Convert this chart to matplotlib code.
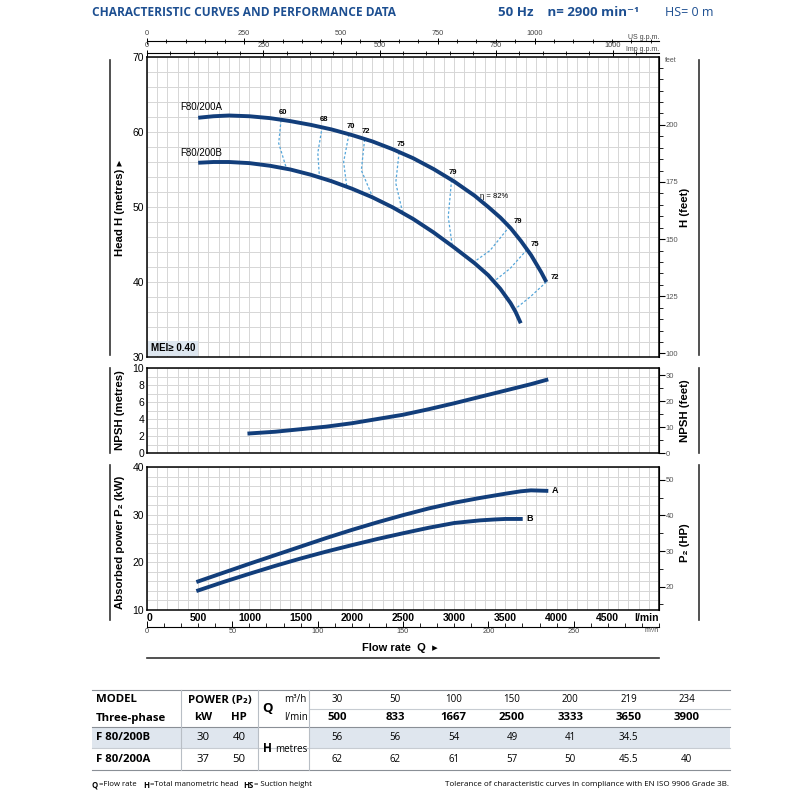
import numpy as np
import matplotlib.pyplot as plt
from matplotlib.patches import Rectangle
from matplotlib.ticker import MultipleLocator

# ---- data (flow in l/min) ----
q_head_a = [500, 650, 800, 1000, 1200, 1400, 1600, 1800, 2000, 2200, 2400, 2600, 2800, 3000,
            3200, 3333, 3450, 3550, 3650, 3750, 3850, 3900]
h_head_a = [61.9, 62.1, 62.2, 62.1, 61.85, 61.45, 60.95, 60.35, 59.6, 58.75, 57.7, 56.5, 55.05, 53.4,
            51.5, 50.0, 48.6, 47.2, 45.5, 43.6, 41.3, 40.0]
q_head_b = [500, 650, 800, 1000, 1200, 1400, 1600, 1800, 2000, 2200, 2400, 2600, 2800, 3000,
            3200, 3333, 3450, 3550, 3600, 3650]
h_head_b = [55.9, 56.0, 56.0, 55.85, 55.5, 55.0, 54.3, 53.45, 52.45, 51.3, 49.95, 48.4, 46.6, 44.6,
            42.5, 40.9, 39.1, 37.2, 36.0, 34.5]

eff_labels = ['60', '68', '70', '72', '75', '79', '79', '75', '72']
eff_q = [[1309, 1286, 1365], [1711, 1668, 1685], [1972, 1920, 1952], [2125, 2093, 2207],
         [2462, 2429, 2501], [2974, 2942, 2981], [3540, 3350, 3186], [3710, 3546, 3399],
         [3900, 3741, 3595]]
eff_h = [[61.6, 58.5, 55.0], [60.7, 57.2, 53.8], [59.7, 56.0, 52.6], [59.0, 54.9, 51.2],
         [57.3, 53.2, 49.0], [53.6, 48.7, 44.8], [47.4, 44.2, 42.6], [44.3, 41.8, 40.2],
         [40.0, 38.0, 36.4]]
eta_max_q, eta_max_h = 3186, 51.6

q_npsh = [1000, 1250, 1500, 1750, 2000, 2250, 2500, 2750, 3000, 3250, 3500, 3750, 3900]
npsh = [2.3, 2.5, 2.8, 3.1, 3.5, 4.0, 4.5, 5.15, 5.85, 6.6, 7.35, 8.1, 8.6]

q_pow_a = [500, 750, 1000, 1250, 1500, 1750, 2000, 2250, 2500, 2750, 3000, 3250, 3500, 3650, 3750, 3900]
p_pow_a = [16.0, 17.85, 19.7, 21.5, 23.3, 25.1, 26.8, 28.4, 29.9, 31.3, 32.5, 33.5, 34.4, 34.9, 35.1, 35.0]
q_pow_b = [500, 750, 1000, 1250, 1500, 1750, 2000, 2250, 2500, 2750, 3000, 3250, 3400, 3500, 3650]
p_pow_b = [14.1, 15.9, 17.6, 19.25, 20.8, 22.25, 23.6, 24.9, 26.1, 27.25, 28.25, 28.8, 29.0, 29.1, 29.1]

x_tick_labels = ['0', '500', '1000', '1500', '2000', '2500', '3000', '3500', '4000', '4500', 'l/min']

# table
tab_m3h = ['30', '50', '100', '150', '200', '219', '234']
tab_lmin = ['500', '833', '1667', '2500', '3333', '3650', '3900']
tab_models = ['F 80/200B', 'F 80/200A']
tab_kw = ['30', '37']
tab_hp = ['40', '50']
tab_h_b = ['56', '56', '54', '49', '41', '34.5', '']
tab_h_a = ['62', '62', '61', '57', '50', '45.5', '40']

NAVY = '#123e7b'
DASH = '#55a6da'
BLUE = '#1d4f91'
GRID = '#d6d6d6'
SANS = ['Liberation Sans', 'DejaVu Sans']
OPEN = ['Open Sans', 'DejaVu Sans']

plt.rcParams['font.family'] = SANS

fig = plt.figure(figsize=(8, 8), dpi=100)


def fx(px):
    return px / 800


def fy(py):
    return 1 - py / 800


L, R = 147, 659
W = fx(R) - fx(L)


def style_panel(ax, ymin, ymax, ystep, ygrid, labels):
    ax.set_xlim(0, 5000)
    ax.set_ylim(ymin, ymax)
    ax.set_xticks(np.arange(0, 5001, 500))
    ax.xaxis.set_minor_locator(MultipleLocator(100))
    ax.set_yticks(np.arange(ymin, ymax + 0.1, ystep))
    ax.yaxis.set_minor_locator(MultipleLocator(ygrid))
    ax.grid(which='both', color=GRID, lw=0.7)
    ax.set_axisbelow(True)
    ax.tick_params(which='both', length=0, labelsize=7.5, pad=2)
    if not labels:
        ax.set_xticklabels([])
    for s in ax.spines.values():
        s.set_linewidth(1.1)


def right_axis(ax, fwd, inv, major, minor):
    sec = ax.secondary_yaxis('right', functions=(fwd, inv))
    sec.set_yticks(major)
    sec.yaxis.set_minor_locator(MultipleLocator(minor))
    sec.tick_params(which='major', length=4, labelsize=5.5, labelcolor='#555555', pad=1)
    sec.tick_params(which='minor', length=3)
    return sec


m2ft = (lambda m: m / 0.3048, lambda f: f * 0.3048)
kw2hp = (lambda k: k / 0.7457, lambda h: h * 0.7457)

# ---- head panel ----
ax_h = fig.add_axes([fx(L), fy(357), W, (357 - 57) / 800])
style_panel(ax_h, 30, 70, 10, 2, False)
for i, (qs, hs) in enumerate(zip(eff_q, eff_h)):
    ax_h.plot(qs, hs, color=DASH, lw=0.9, ls=(0, (2.0, 1.6)))
    off = (-2, 3) if i < 6 else (3, 1)
    ax_h.annotate(eff_labels[i], (qs[0], hs[0]), xytext=off, textcoords='offset points',
                  fontsize=5.5, fontweight='bold', ha='left', va='bottom')
ax_h.plot(q_head_a, h_head_a, color=NAVY, lw=2.8, solid_capstyle='butt', solid_joinstyle='round')
ax_h.plot(q_head_b, h_head_b, color=NAVY, lw=2.8, solid_capstyle='butt', solid_joinstyle='round')
ax_h.text(323, 62.7, 'F80/200A', fontsize=7, va='bottom')
ax_h.text(323, 56.6, 'F80/200B', fontsize=7, va='bottom')
ax_h.annotate('η = 82%', (eta_max_q, eta_max_h), xytext=(5, -1), textcoords='offset points',
              fontsize=5.5, va='center', ha='left')
ax_h.text(0.007, 0.012, 'MEI≥ 0.40', transform=ax_h.transAxes, fontsize=7, fontweight='bold',
          va='bottom', ha='left', bbox=dict(facecolor='#dde6ef', edgecolor='none', pad=2))
right_axis(ax_h, *m2ft, [100, 125, 150, 175, 200], 5)
ax_h.text(1.012, 1.0, 'feet', transform=ax_h.transAxes, fontsize=5, color='#555555', va='top')

# ---- NPSH panel ----
ax_n = fig.add_axes([fx(L), fy(453), W, (453 - 368) / 800])
style_panel(ax_n, 0, 10, 2, 1, False)
ax_n.plot(q_npsh, npsh, color=NAVY, lw=2.8, solid_joinstyle='round')
right_axis(ax_n, *m2ft, [0, 10, 20, 30], 5)

# ---- power panel ----
ax_p = fig.add_axes([fx(L), fy(610), W, (610 - 467) / 800])
style_panel(ax_p, 10, 40, 10, 2, True)
ax_p.set_xticklabels(x_tick_labels, fontweight='bold', fontsize=7.5)
ax_p.get_xticklabels()[-1].set_horizontalalignment('right')
ax_p.get_xticklabels()[0].set_horizontalalignment('left')
ax_p.plot(q_pow_a, p_pow_a, color=NAVY, lw=2.8, solid_joinstyle='round')
ax_p.plot(q_pow_b, p_pow_b, color=NAVY, lw=2.8, solid_joinstyle='round')
ax_p.annotate('A', (q_pow_a[-1], p_pow_a[-1]), xytext=(4, 0), textcoords='offset points',
              fontsize=6.5, fontweight='bold', va='center')
ax_p.annotate('B', (q_pow_b[-1], p_pow_b[-1]), xytext=(4, 0), textcoords='offset points',
              fontsize=6.5, fontweight='bold', va='center')
right_axis(ax_p, *kw2hp, [20, 30, 40, 50], 5)


# ---- extra flow scales ----
def flow_scale(py, top, qmax, major, minor, unit):
    a = fig.add_axes([fx(L), fy(py), W, 0.0001])
    a.set_xlim(0, qmax)
    a.set_yticks([])
    for k, s in a.spines.items():
        s.set_visible(k == 'bottom')
    a.spines['bottom'].set_linewidth(0.8)
    a.set_xticks(np.arange(0, qmax - major * 0.3, major))
    a.xaxis.set_minor_locator(MultipleLocator(minor))
    a.tick_params(which='major', direction='inout' if top else 'in', length=4, width=0.7,
                  labelsize=5.3, labelcolor='#444444', pad=1,
                  labeltop=top, labelbottom=not top, top=False)
    a.tick_params(which='minor', direction='inout' if top else 'in', length=3, width=0.6, top=False)
    a.text(1.0, 1.0 if top else -1.0, unit, transform=a.transAxes, fontsize=5, color='#444444',
           ha='right', va='bottom' if top else 'top')
    return a


flow_scale(41, True, 5000 / 3.785, 250, 50, 'US g.p.m.')
flow_scale(53, True, 5000 / 4.546, 250, 50, 'Imp g.p.m.')
flow_scale(627, False, 300, 50, 10, 'm³/h')

# ---- page decorations and table (pixel coordinates) ----
pg = fig.add_axes([0, 0, 1, 1])
pg.set_xlim(0, 800)
pg.set_ylim(800, 0)
pg.axis('off')

pg.text(92, 13, 'CHARACTERISTIC CURVES AND PERFORMANCE DATA', fontsize=8.6, fontweight='bold',
        color=BLUE, family=OPEN, va='center')
pg.text(498, 13, '50 Hz    n= 2900 min⁻¹', fontsize=9.5, fontweight='bold', color=BLUE,
        family=OPEN, va='center')
pg.text(665, 13, 'HS= 0 m', fontsize=9, color=BLUE, family=OPEN, va='center')

side = [('Head H (metres) ▸', 'H (feet)', 60, 355),
        ('NPSH (metres)', 'NPSH (feet)', 368, 453),
        ('Absorbed power P₂ (kW)', 'P₂ (HP)', 465, 620)]
for lt, rt, y0, y1 in side:
    pg.plot([110, 110], [y0, y1], color='#333333', lw=1.2)
    pg.plot([699, 699], [y0, y1], color='#333333', lw=1.2)
    pg.text(120, (y0 + y1) / 2, lt, rotation=90, fontsize=8.2, fontweight='bold',
            ha='center', va='center')
    pg.text(685, (y0 + y1) / 2, rt, rotation=90, fontsize=8.2, fontweight='bold',
            ha='center', va='center')

pg.text(400, 648, 'Flow rate  Q  ▸', fontsize=8, fontweight='bold', ha='center', va='center')
pg.plot([L, R], [658, 658], color='#333333', lw=1.2)

# table
col_x = [337 + 58.3 * i for i in range(7)]
pg.add_patch(Rectangle((92, 727), 166, 21, color='#dfe6ee', lw=0))
pg.add_patch(Rectangle((309, 727), 421, 21, color='#dfe6ee', lw=0))
for yy, x0, c in [(690, 92, '#8a8f96'), (709, 309, '#c7ccd2'), (727, 92, '#8a8f96'),
                  (748, 92, '#c7ccd2'), (770, 92, '#8a8f96')]:
    pg.plot([x0, 730], [yy, yy], color=c, lw=0.8)
for xx in [181, 258, 309]:
    pg.plot([xx, xx], [690, 770], color='#b8bec5', lw=0.8)

tk = dict(family=OPEN, fontsize=8.2, va='center')
tv = dict(family=OPEN, fontsize=7, va='center', ha='center')
pg.text(96, 700, 'MODEL', fontweight='bold', **tk)
pg.text(96, 718, 'Three-phase', fontweight='bold', **tk)
pg.text(220, 700, 'POWER (P₂)', fontweight='bold', ha='center', **tk)
pg.text(203, 718, 'kW', fontweight='bold', ha='center', **tk)
pg.text(239, 718, 'HP', fontweight='bold', ha='center', **tk)
pg.text(262, 709, 'Q', fontweight='bold', fontsize=9.5, family=OPEN, va='center')
pg.text(284, 700, 'm³/h', family=OPEN, fontsize=7, va='center')
pg.text(284, 718, 'l/min', family=OPEN, fontsize=7, va='center')
pg.text(263, 748, 'H', fontweight='bold', fontsize=8.5, family=OPEN, va='center')
pg.text(275, 749, 'metres', family=OPEN, fontsize=7, va='center')
for x, m, l in zip(col_x, tab_m3h, tab_lmin):
    pg.text(x, 700, m, **tv)
    pg.text(x, 718, l, fontweight='bold', ha='center', **tk)
for yy, mdl, kw, hp, hv in [(737, tab_models[0], tab_kw[0], tab_hp[0], tab_h_b),
                            (760, tab_models[1], tab_kw[1], tab_hp[1], tab_h_a)]:
    pg.text(96, yy, mdl, fontweight='bold', **tk)
    pg.text(203, yy, kw, ha='center', **tk)
    pg.text(239, yy, hp, ha='center', **tk)
    for x, v in zip(col_x, hv):
        pg.text(x, yy, v, **tv)

ft = dict(family=OPEN, fontsize=5.6, va='center')
pg.text(92, 785, 'Q', fontweight='bold', **ft)
pg.text(99, 785, '=Flow rate', **ft)
pg.text(143, 785, 'H', fontweight='bold', **ft)
pg.text(150, 785, '=Total manometric head', **ft)
pg.text(243, 785, 'HS', fontweight='bold', **ft)
pg.text(254, 785, '= Suction height', **ft)
pg.text(729, 785, 'Tolerance of characteristic curves in compliance with EN ISO 9906 Grade 3B.',
        ha='right', fontsize=5.8, family=OPEN, va='center')

fig.savefig('out.png', dpi=100)
